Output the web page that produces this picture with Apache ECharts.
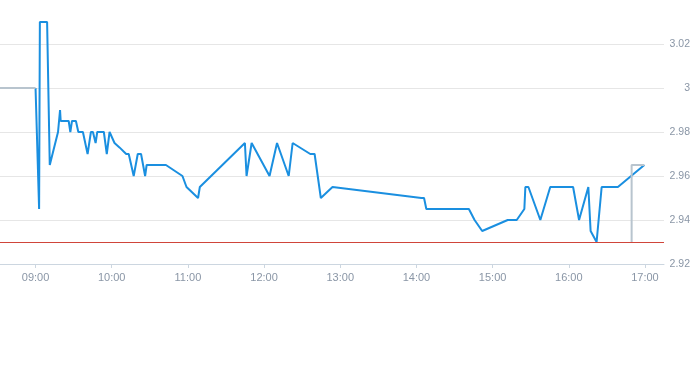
<!DOCTYPE html>
<html>
<head>
<meta charset="utf-8">
<script src="https://cdn.jsdelivr.net/npm/echarts@6/dist/echarts.min.js"></script>
<style>html,body{margin:0;padding:0;background:#fff;}#c{width:693px;height:365px;}</style>
</head>
<body>
<div id="c"></div>
<script>
// Price line (blue)
const times = ["09:00:00","09:02:48","09:03:24","09:09:06","09:11:12","09:17:42","09:18:30","09:19:18","09:19:48","09:26:06",
"09:27:24","09:28:42","09:31:48","09:33:42","09:37:18","09:41:00","09:43:36","09:45:12","09:47:18","09:48:36",
"09:53:48","09:56:06","09:58:18","10:02:12","10:06:06","10:11:24","10:13:24","10:17:18","10:20:30","10:23:06",
"10:26:18","10:27:30","10:42:42","10:55:42","10:58:54","11:08:00","11:09:24","11:44:54","11:46:12","11:50:12",
"12:04:18","12:10:12","12:19:24","12:22:30","12:36:24","12:39:48","12:44:42","12:53:54","14:03:54","14:06:00",
"14:07:48","14:41:18","14:45:48","14:51:48","15:11:54","15:19:00","15:25:00","15:25:48","15:28:12","15:37:36",
"15:45:24","16:03:24","16:08:06","16:15:24","16:17:12","16:21:54","16:25:54","16:38:42","16:59:30"];
const prices = [3.00,2.945,3.03,3.03,2.965,2.98,2.98,2.99,2.985,2.985,
2.98,2.985,2.985,2.98,2.98,2.97,2.98,2.98,2.975,2.98,
2.98,2.97,2.98,2.975,2.973,2.97,2.97,2.96,2.97,2.97,
2.96,2.965,2.965,2.96,2.955,2.95,2.955,2.975,2.96,2.975,
2.96,2.975,2.96,2.975,2.97,2.97,2.95,2.955,2.95,2.95,
2.945,2.945,2.94,2.935,2.94,2.94,2.945,2.955,2.955,2.94,
2.955,2.955,2.94,2.955,2.935,2.93,2.955,2.955,2.965];
// Reference line (gray); null breaks the line
const refTimes = ["08:32:00","09:00:00",null,"16:49:30","16:49:30","16:59:30"];
const refValues = [3.00,3.00,null,2.93,2.965,2.965];
// Horizontal red level
const levelValue = 2.93;
// Axis
const xTickLabels = ["09:00","10:00","11:00","12:00","13:00","14:00","15:00","16:00","17:00"];
const xRange = ["08:32","17:15"];
const yMin = 2.92, yMax = 3.03, yStep = 0.02;

function toMin(s){ const p = s.split(':').map(Number); return p[0]*60 + p[1] + (p[2]||0)/60; }
function fmt(m){ const h = Math.floor(m/60), mm = Math.round(m - h*60); return String(h).padStart(2,'0')+':'+String(mm).padStart(2,'0'); }

const mainData = times.map((t,i)=>[toMin(t), prices[i]]);
const refData = refTimes.map((t,i)=> t===null ? ['-', '-'] : [toMin(t), refValues[i]]);
const tickVals = xTickLabels.map(toMin);

const labelColor = '#8a96a6';
const font = 'Liberation Sans';

const chart = echarts.init(document.getElementById('c'), null, {renderer:'canvas'});
chart.setOption({
  animation: false,
  backgroundColor: '#ffffff',
  grid: {left: 0, right: 26, top: 22, bottom: 101, containLabel: false},
  xAxis: {
    type: 'value',
    min: toMin(xRange[0]), max: toMin(xRange[1]),
    splitLine: {show: false},
    axisLine: {show: true, lineStyle: {color: '#ccd6e0', width: 1}},
    axisTick: {show: true, customValues: tickVals, length: 4, lineStyle: {color: '#ccd6e0'}},
    axisLabel: {customValues: tickVals, formatter: v => fmt(v), color: labelColor, fontSize: 11, fontFamily: font, margin: 8}
  },
  yAxis: {
    type: 'value',
    position: 'right',
    min: yMin, max: yMax, interval: yStep,
    axisLine: {show: false},
    axisTick: {show: false},
    splitLine: {show: true, showMaxLine: false, showMinLine: false, lineStyle: {color: '#e6e6e6', width: 1}},
    axisLabel: {showMaxLabel: false, align: 'right', margin: 26, color: labelColor, fontSize: 10.5, fontFamily: font,
      formatter: v => String(parseFloat(v.toFixed(2)))}
  },
  series: [
    {
      type: 'line', data: refData, showSymbol: false, symbol: 'none', connectNulls: false,
      lineStyle: {color: '#b8c4ce', width: 2}, z: 3
    },
    {
      type: 'line', data: mainData, showSymbol: false, symbol: 'none',
      lineStyle: {color: '#1a8fe0', width: 2}, z: 2,
      markLine: {
        silent: true, symbol: 'none', label: {show: false},
        lineStyle: {color: '#d0453a', width: 1, type: 'solid'},
        data: [{yAxis: levelValue}]
      }
    }
  ]
});
</script>
</body>
</html>
